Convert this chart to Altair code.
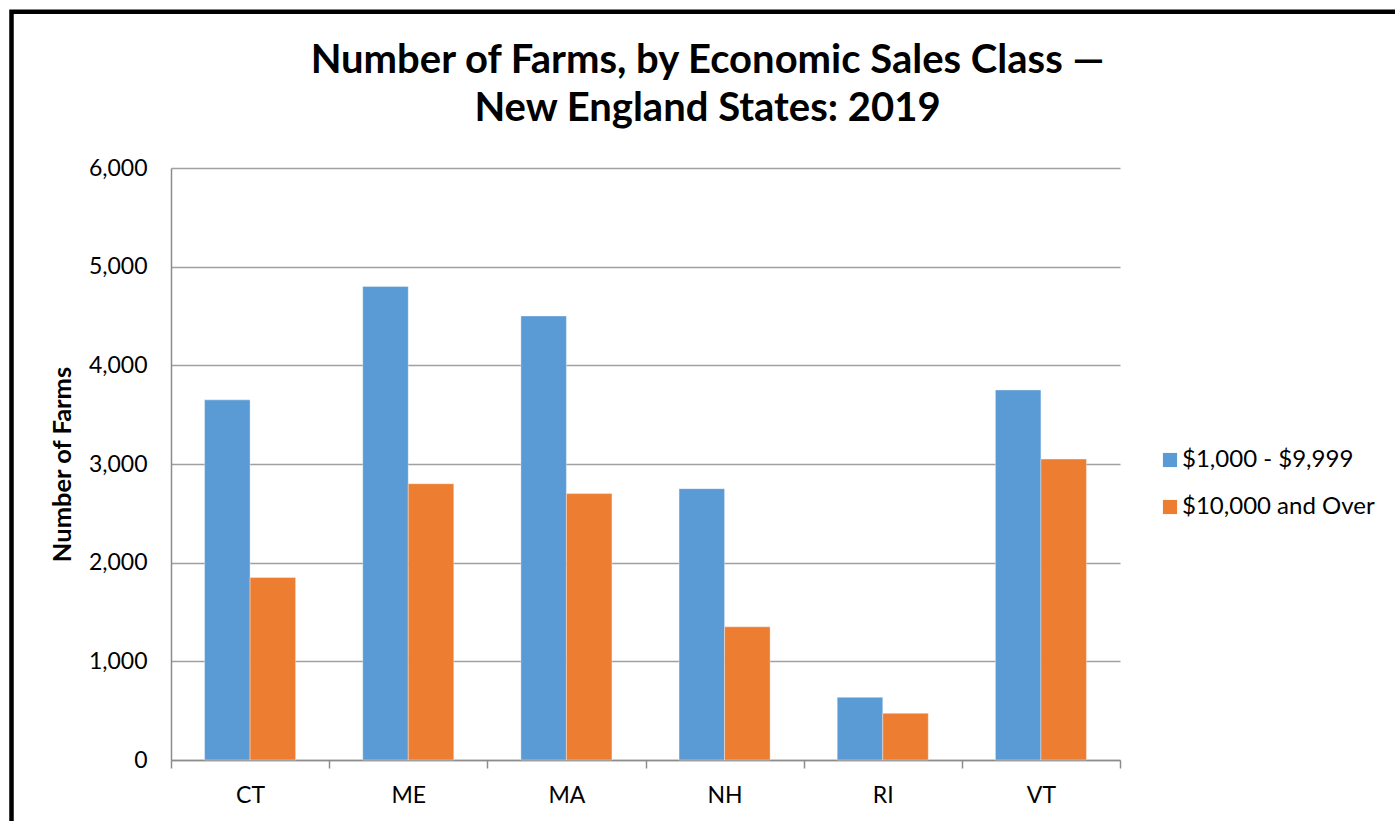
import altair as alt
import pandas as pd

states = ["CT", "ME", "MA", "NH", "RI", "VT"]
small_class = [3650, 4800, 4500, 2750, 635, 3750]
large_class = [1850, 2800, 2700, 1350, 473, 3050]
series_names = ["$1,000 - $9,999", "$10,000 and Over"]
colors = ["#5B9BD5", "#ED7D31"]
y_ticks = [0, 1000, 2000, 3000, 4000, 5000, 6000]

rows = []
for s, a, b in zip(states, small_class, large_class):
    rows.append({"State": s, "Class": series_names[0], "Farms": a})
    rows.append({"State": s, "Class": series_names[1], "Farms": b})
df = pd.DataFrame(rows)

FONT = "Lato"
W, H = 949, 592

bars = alt.Chart(df).mark_bar(stroke="#ffffff", strokeWidth=0.6, strokeOpacity=0.6).encode(
    x=alt.X("State:N", sort=states,
            scale=alt.Scale(paddingInner=0, paddingOuter=0),
            axis=alt.Axis(title=None, labelAngle=0, tickBand="extent", tickSize=8,
                          tickColor="#8C8C8C", tickWidth=1.5, domainColor="#8C8C8C",
                          domainWidth=1.5, labelFontSize=23, labelPadding=16,
                          labelColor="#000000", grid=False)),
    xOffset=alt.XOffset("Class:N", sort=series_names,
                        scale=alt.Scale(paddingInner=0, paddingOuter=0.737)),
    y=alt.Y("Farms:Q", scale=alt.Scale(domain=[0, 6000], nice=False),
            axis=alt.Axis(values=y_ticks, format=",d", title="Number of Farms",
                          titleFontSize=25.5, titleFontWeight="bold", titleColor="#000000",
                          titleX=-109, titleY=H / 2, titleAngle=-90,
                          titleAlign="center", titleBaseline="middle",
                          labelFontSize=23, labelColor="#000000", labelPadding=24,
                          ticks=False, domainColor="#8C8C8C", domainWidth=1.5,
                          gridColor="#A0A0A0", gridWidth=1.5)),
    color=alt.Color("Class:N", sort=series_names,
                    scale=alt.Scale(domain=series_names, range=colors),
                    legend=alt.Legend(title=None, orient="none", legendX=987, legendY=280,
                                      symbolType="square", symbolSize=200,
                                      symbolStrokeWidth=0, labelFontSize=24,
                                      labelColor="#000000", rowPadding=23,
                                      labelOffset=0, labelLimit=400)),
)

border = alt.Chart(pd.DataFrame({"k": [0]})).mark_rect(
    fill=None, stroke="#000000", strokeWidth=4.5
).encode(
    x=alt.value(-159.5), x2=alt.value(W + 400),
    y=alt.value(-156.3), y2=alt.value(H + 400),
)

chart = alt.layer(bars, border).properties(
    width=W, height=H,
    title=alt.TitleParams(
        text=["Number of Farms, by Economic Sales Class —", "New England States: 2019"],
        fontSize=40, fontWeight="bold", font=FONT, color="#000000",
        anchor="middle", dx=62, lineHeight=48, offset=-120, frame="group",
    ),
    autosize=alt.AutoSizeParams(type="none"),
    padding={"left": 171, "top": 168, "right": 275, "bottom": 61},
).configure(
    font=FONT,
).configure_view(
    stroke=None,
).configure_axis(
    labelFont=FONT, titleFont=FONT,
).configure_legend(
    labelFont=FONT,
)

chart.save("out.html", embed_options={"renderer": "svg", "actions": False})
